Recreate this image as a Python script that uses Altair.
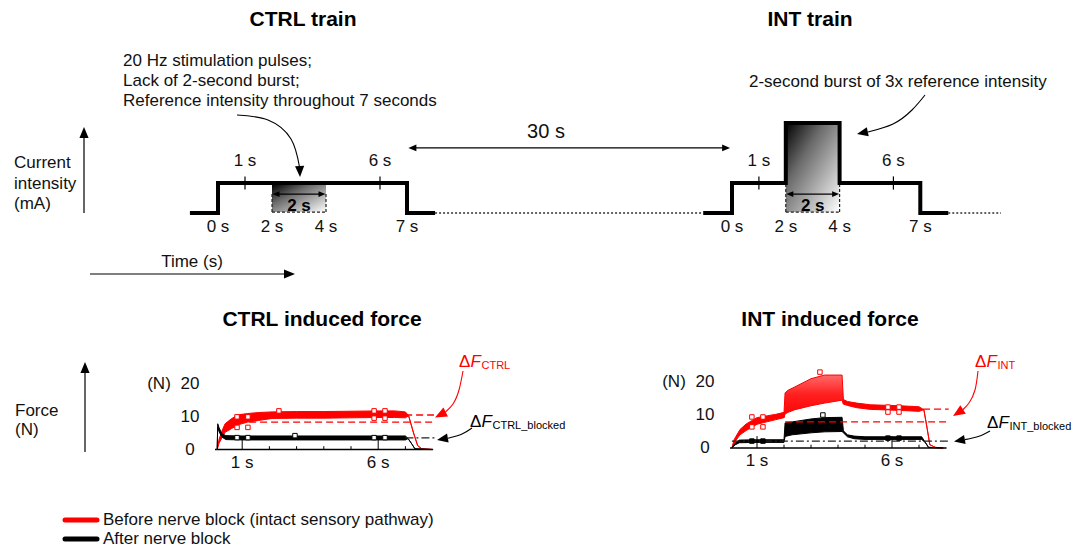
import math
import altair as alt
import pandas as pd

FONT = "Liberation Sans, Arial, Helvetica, sans-serif"
RED = "#ff0000"
BLACK = "#000000"

# ===================== DATA =====================
# Stimulation trains: time (s) vs current intensity (multiples of reference intensity)
ctrl_train_t = [-1.04, 0, 0, 7, 7, 8.04]
ctrl_train_i = [0, 0, 1, 1, 0, 0]
int_train_t = [-1.07, 0, 0, 2, 2, 4, 4, 7, 7, 8.04]
int_train_i = [0, 0, 1, 1, 3, 3, 1, 1, 0, 0]
train_tick_t = [1, 6]
train_tick_labels = ["1 s", "6 s"]
train_edge_t = [0, 2, 4, 7]
train_edge_labels = ["0 s", "2 s", "4 s", "7 s"]
burst_window = [2, 4]
burst_label = "2 s"
rest_label = "30 s"

# Force traces: time (s), lower / upper envelope of the recorded force (N)
ctrl_before_t = [0.08, 0.15, 0.25, 0.37, 0.6, 0.85, 1.2, 1.6, 2.1, 3.0, 4.0, 5.0, 6.0, 6.6, 7.0, 7.12, 7.3, 7.45, 7.6, 8.0]
ctrl_before_lo = [0, 1.9, 3.5, 5.2, 6.3, 7.5, 8.3, 8.8, 9.4, 9.5, 9.5, 9.6, 9.7, 9.7, 9.6, 10.2, 5.0, 1.2, 0.2, 0]
ctrl_before_hi = [0, 3.1, 5.5, 7.8, 9.3, 10.5, 10.9, 11.2, 11.4, 11.5, 11.5, 11.6, 11.7, 11.7, 11.4, 10.2, 5.0, 1.2, 0.2, 0]

ctrl_after_t = [0.08, 0.1, 0.15, 0.25, 0.4, 1.0, 3.0, 5.0, 7.0, 7.1, 7.25, 7.35, 8.0]
ctrl_after_lo = [0, 6.8, 5.4, 3.8, 3.0, 2.9, 2.9, 2.9, 2.9, 3.3, 1.5, 0.2, 0]
ctrl_after_hi = [0, 7.8, 6.6, 4.8, 4.2, 4.1, 4.1, 4.1, 4.1, 3.3, 1.5, 0.2, 0]

int_before_t = [0.07, 0.15, 0.37, 0.6, 1.0, 1.4, 1.7, 2.0, 2.04, 2.15, 2.4, 3.0, 3.5, 4.15,
                4.2, 4.35, 4.7, 5.2, 6.3, 7.0, 7.18, 7.3, 7.4, 7.6, 7.9]
int_before_lo = [0, 1.5, 4.0, 5.3, 7.2, 8.0, 8.6, 9.2, 10.3, 10.8, 11.6, 12.8, 13.6, 14.5,
                 13.3, 12.9, 12.2, 11.7, 11.4, 11.1, 11.6, 6.0, 1.0, 0.2, 0]
int_before_hi = [0, 2.5, 5.6, 7.3, 9.2, 9.8, 10.2, 10.8, 16.7, 17.5, 18.5, 21.0, 22.1, 22.1,
                 14.7, 14.1, 13.6, 13.1, 12.8, 12.5, 11.6, 6.0, 1.0, 0.2, 0]

int_after_t = [0.07, 0.2, 0.35, 1.0, 2.0, 2.04, 2.3, 3.0, 3.5, 4.15, 4.2, 4.35, 4.6, 5.0, 7.1, 7.25, 7.35, 7.9]
int_after_lo = [0, 1.0, 1.6, 1.7, 1.7, 3.5, 4.0, 4.6, 4.9, 5.0, 4.6, 3.4, 2.8, 2.6, 2.6, 1.5, 0.2, 0]
int_after_hi = [0, 1.6, 2.4, 2.5, 2.5, 7.6, 7.9, 8.8, 9.2, 9.3, 5.2, 4.0, 3.6, 3.4, 3.4, 1.5, 0.2, 0]

# measurement-window markers (time s, force N)
ctrl_before_mark_t = [0.81, 0.81, 1.21, 1.21, 2.35, 5.85, 5.85, 6.25, 6.25]
ctrl_before_mark_f = [9.9, 6.7, 9.9, 6.7, 11.7, 11.7, 9.5, 11.7, 9.5]
ctrl_after_mark_t = [0.81, 1.21, 2.94, 5.85, 6.25]
ctrl_after_mark_f = [3.6, 3.6, 4.2, 3.6, 3.6]
int_before_mark_t = [0.81, 0.81, 1.22, 1.22, 3.33, 5.85, 5.85, 6.26, 6.26]
int_before_mark_f = [9.4, 6.4, 9.4, 6.4, 23.0, 12.4, 10.9, 12.4, 10.9]
int_after_mark_t = [0.81, 1.22, 5.85, 6.26]
int_after_mark_f = [2.1, 2.1, 3.0, 3.0]
int_after_peak_mark_t = [3.44]
int_after_peak_mark_f = [10.0]

# reference force levels (N): end-of-train before block, 1-s level before block, after block
ctrl_levels = [10.45, 8.3, 3.5]
int_levels = [11.8, 7.9, 2.1]

force_tick_values = [0, 10, 20]
force_major_t = [1, 6]
force_major_labels = ["1 s", "6 s"]
force_minor_t = [2, 3, 4, 5, 7]

legend_labels = ["Before nerve block (intact sensory pathway)", "After nerve block"]

# ===================== LAYOUT (page pixel geometry) =====================
TOP = {"CTRL": dict(x0=218.0, sx=27.0), "INT": dict(x0=732.0, sx=26.9)}
TOP_Y0, TOP_SY = 213.0, 30.0
FORCE = {"CTRL": dict(x0=215.0, sx=27.2, y0=449.5), "INT": dict(x0=730.0, sx=27.0, y0=448.0)}
FORCE_SY = 3.3
LEGEND_Y = [520, 539]


def tx(p, t):
    return TOP[p]["x0"] + t * TOP[p]["sx"]


def ty(lvl):
    return TOP_Y0 - lvl * TOP_SY


def fx(p, t):
    return FORCE[p]["x0"] + t * FORCE[p]["sx"]


def fy(p, f):
    return FORCE[p]["y0"] - f * FORCE_SY


SX = alt.Scale(domain=[8, 1076], nice=False, zero=False)
SY = alt.Scale(domain=[8, 548], nice=False, zero=False, reverse=True)


def X(f="x"):
    return alt.X(f"{f}:Q", scale=SX, axis=None)


def Y(f="y"):
    return alt.Y(f"{f}:Q", scale=SY, axis=None)


def rules(segs, **kw):
    df = pd.DataFrame(segs, columns=["x", "y", "x2", "y2"])
    return alt.Chart(df).mark_rule(**kw).encode(x=X(), y=Y(), x2="x2:Q", y2="y2:Q")


def polylines(lines, interpolate="linear", **kw):
    rows = []
    for g, pts in enumerate(lines):
        for i, (x, y) in enumerate(pts):
            rows.append(dict(g=g, i=i, x=x, y=y))
    return alt.Chart(pd.DataFrame(rows)).mark_line(interpolate=interpolate, **kw).encode(
        x=X(), y=Y(), detail="g:N", order="i:Q")


ARROW = "M0,-1L0.75,0.8L-0.75,0.8Z"


def heads(specs, color):
    rows = []
    for (tipx, tipy, b, L) in specs:
        r = L / 1.8
        cx = tipx - r * math.sin(math.radians(b))
        cy = tipy + r * math.cos(math.radians(b))
        rows.append(dict(x=cx, y=cy, a=b, s=(2 * r) ** 2))
    return alt.Chart(pd.DataFrame(rows)).mark_point(
        shape=ARROW, filled=True, color=color, opacity=1, strokeWidth=0).encode(
        x=X(), y=Y(), angle=alt.Angle("a:Q", scale=None), size=alt.Size("s:Q", scale=None))


def texts(rows, **kw):
    df = pd.DataFrame(rows, columns=["t", "x", "y"])
    return alt.Chart(df).mark_text(font=FONT, **kw).encode(x=X(), y=Y(), text="t:N")


def band(p, t, lo, hi, color, fill=None):
    df = pd.DataFrame(dict(x=[fx(p, v) for v in t], ylo=[fy(p, v) for v in lo], yhi=[fy(p, v) for v in hi]))
    return alt.Chart(df).mark_area(fill=fill if fill is not None else color, stroke=color,
                                   strokeWidth=1, interpolate="linear").encode(
        x=X(), y=Y("ylo"), y2="yhi:Q")


def marks(p, t, f, color, filled):
    df = pd.DataFrame(dict(x=[fx(p, v) for v in t], y=[fy(p, v) for v in f]))
    return alt.Chart(df).mark_point(shape="square", size=20, filled=True,
                                    fill=color if filled else "white", stroke=color,
                                    strokeWidth=1, opacity=1).encode(x=X(), y=Y())


layers = []

# ---------- top: gradient burst boxes ----------
grad = alt.Gradient(gradient="linear", x1=0, y1=0, x2=1, y2=1,
                    stops=[alt.GradientStop(color="#000000", offset=0),
                           alt.GradientStop(color="#6a6a6a", offset=0.35),
                           alt.GradientStop(color="#ffffff", offset=1)])
box_df = pd.DataFrame([
    dict(x=tx("CTRL", burst_window[0]), x2=tx("CTRL", burst_window[1]), y=ty(0.93), y2=ty(0.03)),
    dict(x=tx("INT", burst_window[0]), x2=tx("INT", burst_window[1]), y=ty(3), y2=ty(0.03)),
])
for _, r in box_df.iterrows():
    layers.append(alt.Chart(pd.DataFrame([r])).mark_rect(fill=grad).encode(
        x=X(), x2="x2:Q", y=Y(), y2="y2:Q"))

# dashed outlines of the 2-s window
dash_segs = []
for p, top_lvl in (("CTRL", 0.63), ("INT", 1.0)):
    a, b = tx(p, burst_window[0]), tx(p, burst_window[1])
    dash_segs += [(a, ty(0.03), a, ty(top_lvl)), (b, ty(0.03), b, ty(top_lvl)), (a, ty(0.03), b, ty(0.03))]
layers.append(rules(dash_segs, color="#222", strokeWidth=1.2, strokeDash=[3, 2]))

# dotted rest-period line
layers.append(rules([(tx("CTRL", ctrl_train_t[-1]), ty(0), tx("INT", int_train_t[0]), ty(0)),
                     (tx("INT", int_train_t[-1]), ty(0), tx("INT", 10.0), ty(0))],
                    color="#333", strokeWidth=1.3, strokeDash=[2, 2]))

# thick stimulation waveforms
layers.append(polylines([
    [(tx("CTRL", t), ty(i)) for t, i in zip(ctrl_train_t, ctrl_train_i)],
    [(tx("INT", t), ty(i)) for t, i in zip(int_train_t, int_train_i)],
], color=BLACK, strokeWidth=4, strokeJoin="miter", strokeCap="butt"))

# small ticks at 1 s and 6 s
layers.append(rules([(tx(p, t), ty(1.22), tx(p, t), ty(0.78)) for p in TOP for t in train_tick_t],
                    color=BLACK, strokeWidth=1.2))

# 2-s double arrows inside the boxes
dbl = []
dbl_heads = []
for p in TOP:
    a, b = tx(p, burst_window[0]), tx(p, burst_window[1])
    y = ty(0.63)
    dbl.append((a + 4, y, b - 4, y))
    dbl_heads += [(a + 0.5, y, 270, 7), (b - 0.5, y, 90, 7)]
layers.append(rules(dbl, color=BLACK, strokeWidth=1.2))
layers.append(heads(dbl_heads, BLACK))

# 30 s double arrow
y30 = ty(2.17)
xa, xb = tx("CTRL", 7.05), tx("INT", -0.07)
layers.append(rules([(xa + 5, y30, xb - 5, y30)], color=BLACK, strokeWidth=1.1))
layers.append(heads([(xa, y30, 270, 8), (xb, y30, 90, 8)], BLACK))

# axis arrows (current, time, force)
layers.append(rules([(84, 213, 84, 136), (90, 274, 286, 274), (85, 452, 85, 371)], color=BLACK, strokeWidth=1.2))
layers.append(heads([(84, 127, 0, 11), (295, 274, 90, 11), (85, 362, 0, 11)], BLACK))

# curved annotation arrows (black)
layers.append(polylines([
    [(237, 115), (268, 120), (291, 139), (299.5, 167)],
    [(925, 95), (912, 110), (893, 124), (868, 132)],
    [(472, 428), (462, 434), (448, 438.3)],
    [(990, 431), (979, 436.3), (965, 439.6)],
], interpolate="natural", color=BLACK, strokeWidth=1.1))
layers.append(heads([(300, 177, 178, 11), (857, 134, 258, 11),
                     (437, 440, 260, 11), (954, 441.5, 260, 11)], BLACK))
# curved annotation arrows (red)
layers.append(polylines([
    [(463, 371), (459, 390), (453, 404), (445.5, 412)],
    [(978, 371), (975, 390), (969, 403), (962.5, 410)],
], interpolate="natural", color=RED, strokeWidth=1.1))
layers.append(heads([(435, 417.5, 243, 12), (953, 416, 237, 12)], RED))

# ---------- force panels ----------
for p in FORCE:
    layers.append(rules([(fx(p, 0), fy(p, 0), fx(p, 8.02), fy(p, 0))], color=BLACK, strokeWidth=1.5))
    layers.append(rules([(fx(p, t), fy(p, 0), fx(p, t), fy(p, 3.6)) for t in force_major_t] +
                        [(fx(p, t), fy(p, 0), fx(p, t), fy(p, 1.0)) for t in force_minor_t],
                        color=BLACK, strokeWidth=1))

layers.append(band("CTRL", ctrl_before_t, ctrl_before_lo, ctrl_before_hi, RED))
layers.append(band("CTRL", ctrl_after_t, ctrl_after_lo, ctrl_after_hi, BLACK))

# INT before block: pre-burst, burst (dense 20 Hz twitches, lighter towards the peaks), post-burst
b0, b1 = int_before_t.index(2.0), int_before_t.index(4.2)
burst_fill = alt.Gradient(gradient="linear", x1=0, y1=0, x2=0, y2=1,
                          stops=[alt.GradientStop(color="#ff6a6a", offset=0),
                                 alt.GradientStop(color="#ff2020", offset=0.45),
                                 alt.GradientStop(color="#ff0000", offset=1)])
layers.append(band("INT", int_before_t[:b0 + 1], int_before_lo[:b0 + 1], int_before_hi[:b0 + 1], RED))
layers.append(band("INT", int_before_t[b0:b1 + 1], int_before_lo[b0:b1 + 1], int_before_hi[b0:b1 + 1],
                   RED, fill=burst_fill))
layers.append(band("INT", int_before_t[b1:], int_before_lo[b1:], int_before_hi[b1:], RED))
layers.append(band("INT", int_after_t, int_after_lo, int_after_hi, BLACK))

# reference level lines
red_dash = [
    (fx("CTRL", 6.99), fy("CTRL", ctrl_levels[0]), fx("CTRL", 8.05), fy("CTRL", ctrl_levels[0])),
    (fx("CTRL", 0.85), fy("CTRL", ctrl_levels[1]), fx("CTRL", 8.05), fy("CTRL", ctrl_levels[1])),
    (fx("INT", 7.15), fy("INT", int_levels[0]), fx("INT", 8.1), fy("INT", int_levels[0])),
    (fx("INT", 2.04), fy("INT", int_levels[1]), fx("INT", 8.1), fy("INT", int_levels[1])),
]
layers.append(rules(red_dash, color=RED, strokeWidth=1.3, strokeDash=[7, 4]))
blk_dash = [
    (fx("CTRL", 7.0), fy("CTRL", ctrl_levels[2]), fx("CTRL", 8.08), fy("CTRL", ctrl_levels[2])),
    (fx("INT", 0.07), fy("INT", int_levels[2]), fx("INT", 8.1), fy("INT", int_levels[2])),
]
layers.append(rules(blk_dash, color="#222", strokeWidth=1.2, strokeDash=[8, 3, 2, 3]))

# markers
layers.append(marks("CTRL", ctrl_before_mark_t, ctrl_before_mark_f, RED, False))
layers.append(marks("CTRL", ctrl_after_mark_t, ctrl_after_mark_f, BLACK, False))
layers.append(marks("INT", int_before_mark_t, int_before_mark_f, RED, False))
layers.append(marks("INT", int_after_mark_t, int_after_mark_f, BLACK, True))
layers.append(marks("INT", int_after_peak_mark_t, int_after_peak_mark_f, BLACK, False))

# legend swatches
layers.append(rules([(65, LEGEND_Y[0], 97, LEGEND_Y[0])], color=RED, strokeWidth=5, strokeCap="round"))
layers.append(rules([(65, LEGEND_Y[1], 97, LEGEND_Y[1])], color=BLACK, strokeWidth=5, strokeCap="round"))

# ---------- text ----------
layers.append(texts([("CTRL train", 303, 19.5), ("INT train", 810, 19.5),
                     ("CTRL induced force", 322, 320), ("INT induced force", 830, 320)],
                    fontSize=21, fontWeight="bold", align="center", baseline="middle", color=BLACK))

left_rows = [
    ("20 Hz stimulation pulses;", 123, 61),
    ("Lack of 2-second burst;", 123, 81),
    ("Reference intensity throughout 7 seconds", 123, 101),
    ("2-second burst of 3x reference intensity", 749, 82),
    ("Current", 14, 163), ("intensity", 14, 184), ("(mA)", 14, 204),
    ("Force", 15, 411), ("(N)", 15, 430),
    (legend_labels[0], 103, LEGEND_Y[0]), (legend_labels[1], 103, LEGEND_Y[1]),
]
layers.append(texts(left_rows, fontSize=17, align="left", baseline="middle", color="#111"))

center_rows = [("Time (s)", 192, 262)]
for p in TOP:
    center_rows += [(lab, tx(p, t), ty(1.74)) for t, lab in zip(train_tick_t, train_tick_labels)]
    center_rows += [(lab, tx(p, t), ty(-0.47)) for t, lab in zip(train_edge_t, train_edge_labels)]
for p in FORCE:
    x0 = FORCE[p]["x0"]
    center_rows += [(lab, fx(p, t), fy(p, 0) + 13) for t, lab in zip(force_major_t, force_major_labels)]
    center_rows += [(str(v), x0 - 25, fy(p, v)) for v in force_tick_values]
    center_rows += [("(N)", x0 - 56, fy(p, 20))]
layers.append(texts(center_rows, fontSize=17, align="center", baseline="middle", color="#111"))

layers.append(texts([(rest_label, 546, 132)], fontSize=20, align="center", baseline="middle", color="#111"))
layers.append(texts([(burst_label, tx(p, 3), ty(0.24)) for p in TOP],
                    fontSize=17, fontWeight="bold", align="center", baseline="middle", color=BLACK))

# Delta F labels (Δ + italic F + subscript)
for color, items in ((RED, [(459, 367, "CTRL"), (975, 367, "INT")]),
                     (BLACK, [(470, 427, "CTRL_blocked"), (987, 428, "INT_blocked")])):
    layers.append(texts([("Δ", x, y) for x, y, s in items], fontSize=17, align="left",
                        baseline="alphabetic", color=color))
    layers.append(texts([("F", x + 11.4, y) for x, y, s in items], fontSize=17, fontStyle="italic",
                        align="left", baseline="alphabetic", color=color))
    layers.append(texts([(s, x + 22.5, y + 2) for x, y, s in items], fontSize=11, align="left",
                        baseline="alphabetic", color=color))

chart = alt.layer(*layers).properties(
    width=1068, height=540, padding=0,
    autosize=alt.AutoSizeParams(type="none"),
).configure_view(stroke=None)

chart.save("out.html", embed_options={"renderer": "svg", "actions": False})
